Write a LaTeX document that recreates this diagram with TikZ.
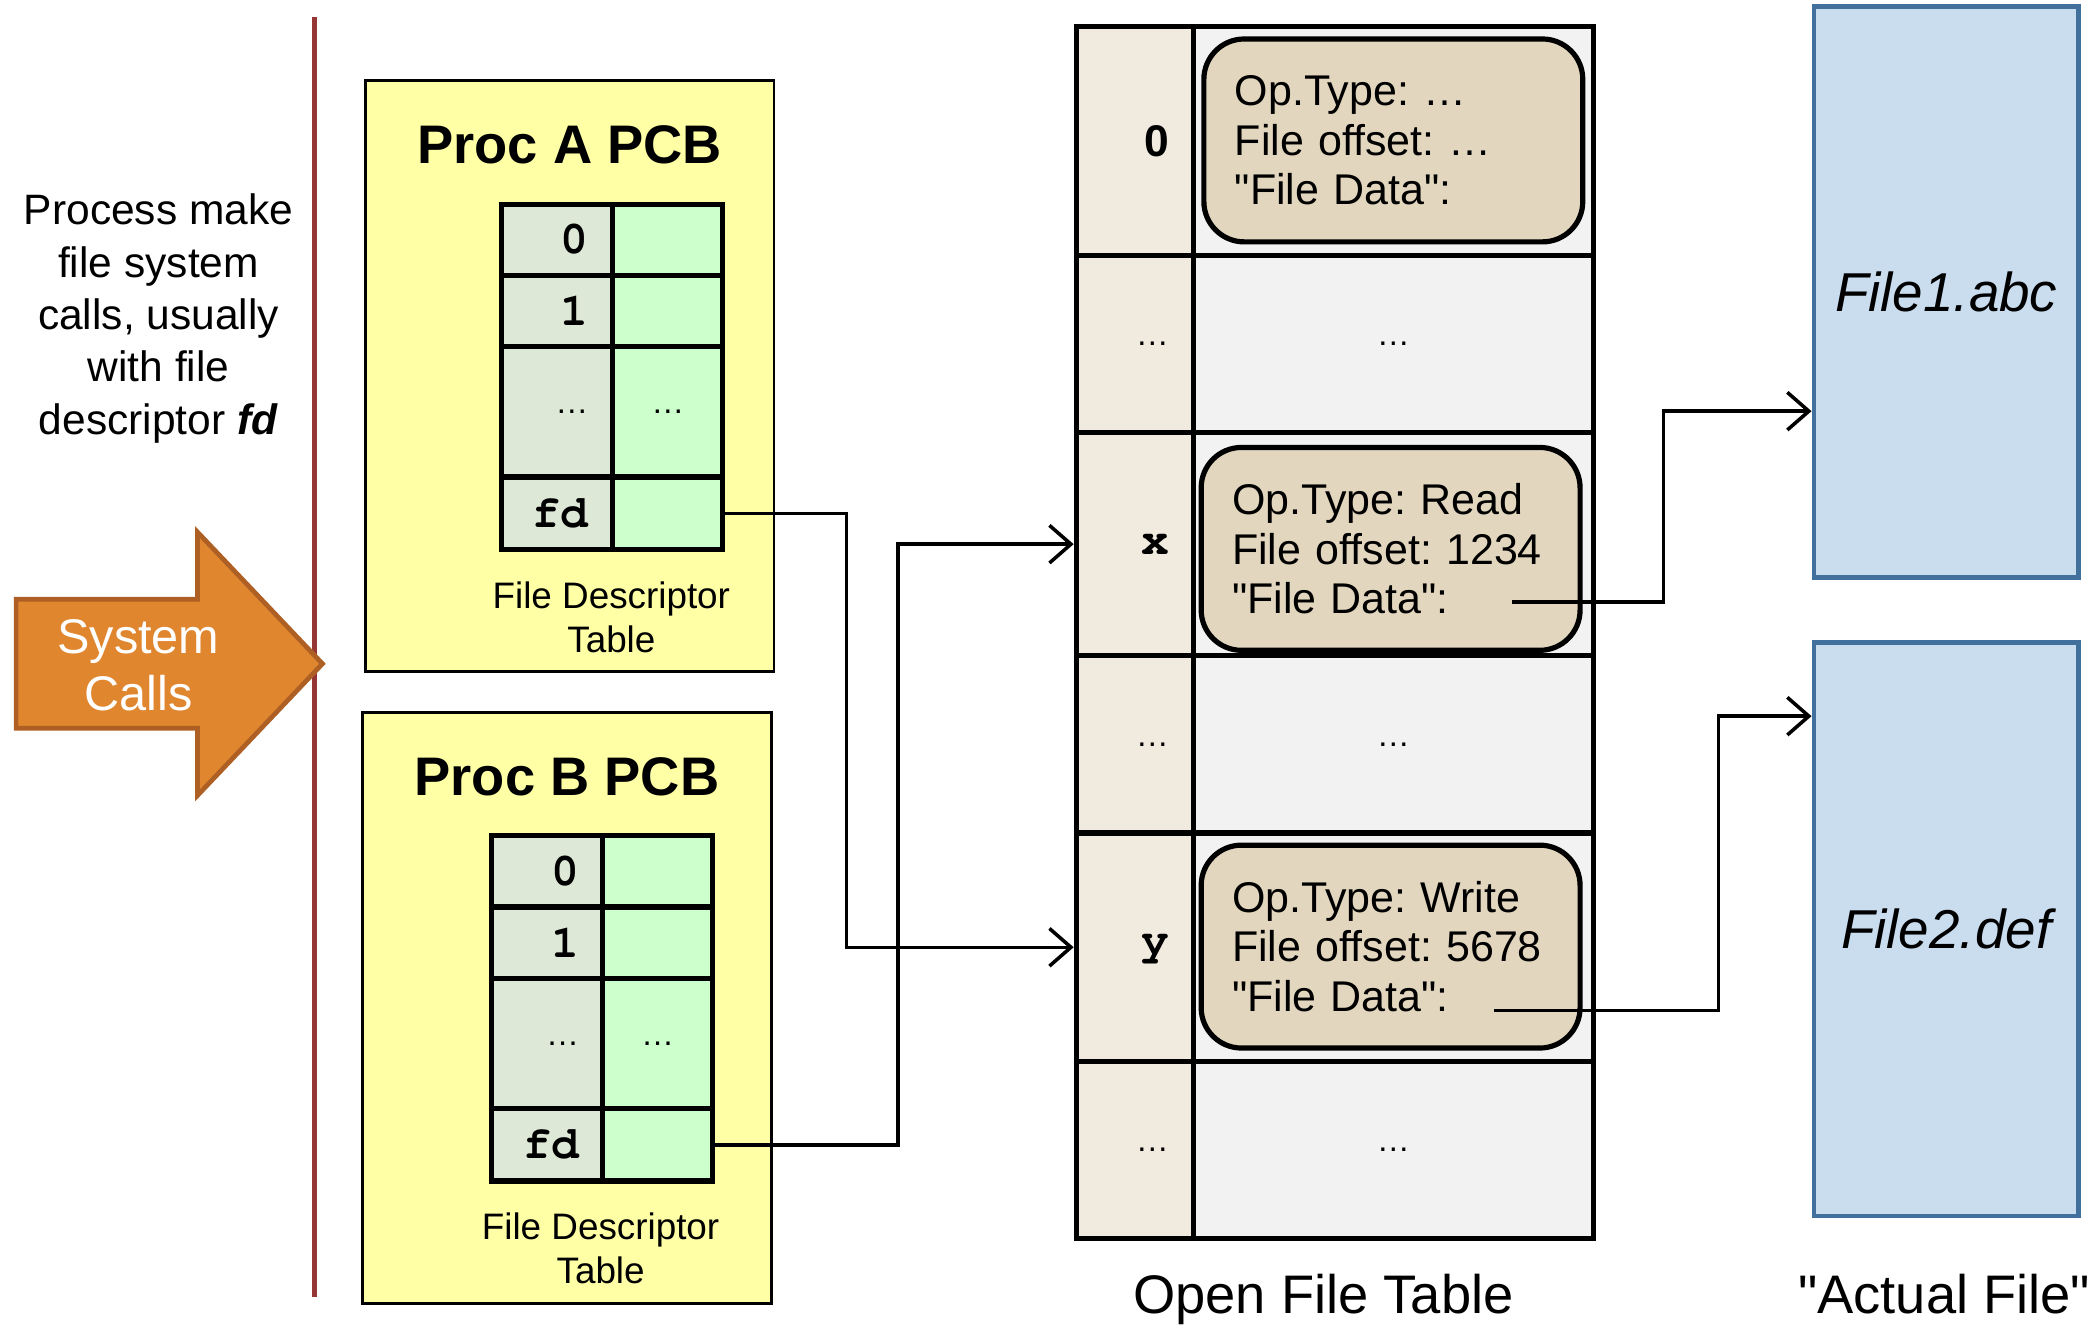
\documentclass[tikz,border=0pt]{standalone}
\usepackage{fontspec}
\setmainfont{Liberation Sans}
\setmonofont{Liberation Mono}
\usetikzlibrary{arrows.meta}

\definecolor{pcbyellow}{HTML}{FFFFA6}
\definecolor{keygray}{HTML}{DDE8D6}
\definecolor{valgreen}{HTML}{CCFFCC}
\definecolor{oftbeige}{HTML}{F0EADF}
\definecolor{oftgray}{HTML}{F2F2F2}
\definecolor{enttan}{HTML}{E2D6BE}
\definecolor{fileblue}{HTML}{C9DDEF}
\definecolor{fileedge}{HTML}{41709C}
\definecolor{sysorange}{HTML}{E0862F}
\definecolor{sysedge}{HTML}{AE5F24}
\definecolor{kernelred}{HTML}{963634}

\newcommand{\courierbf}{\fontencoding{T1}\fontfamily{pcr}\fontseries{b}\selectfont}

\tikzset{
	pcb/.style={draw=black, line width=0.6pt, fill=pcbyellow, minimum width=3.04cm, minimum height=4.40cm, inner sep=0},
	pcbtitle/.style={font=\fontsize{11.5}{13}\selectfont\bfseries},
	fdkey/.style={draw, line width=1.1pt, fill=keygray, minimum width=0.83cm, text width=0.47cm, inner xsep=0.18cm, inner ysep=0, align=right, font=\fontsize{9.8}{11}\courierbf},
	fdval/.style={draw, line width=1.1pt, fill=valgreen, minimum width=0.82cm, inner sep=0},
	fdcap/.style={align=center, font=\fontsize{7.8}{9.4}\selectfont},
	oftkey/.style={draw, line width=1.1pt, fill=oftbeige, minimum width=0.87cm, text width=0.51cm, inner xsep=0.18cm, inner ysep=0, align=right, font=\fontsize{9.4}{11}\selectfont\bfseries},
	oftval/.style={draw, line width=1.1pt, fill=oftgray, minimum width=2.98cm, inner sep=0},
	entry/.style={draw, line width=1.1pt, fill=enttan, rounded corners=0.3cm, minimum width=2.82cm, minimum height=1.51cm, text width=2.36cm, inner xsep=0.23cm, align=left, font=\fontsize{9.1}{10.5}\selectfont\frenchspacing},
	filebox/.style={draw=fileedge, line width=1pt, fill=fileblue, minimum width=1.97cm, inner sep=0, font=\fontsize{11.6}{13}\selectfont\itshape},
	caption/.style={font=\fontsize{11.5}{13}\selectfont},
	conn/.style={line width=0.75pt, -{Straight Barb[length=0.16cm, width=0.28cm]}},
}

\newcommand{\celldots}{{\fontsize{7}{8}\selectfont\rmfamily\mdseries …}}

\begin{document}
\begin{tikzpicture}
		%%%%% START %%%%%
		\useasboundingbox (0,0) rectangle (15.6,-9.884);
		
		% left side: note, kernel line, system calls
		\node[align=center, font=\fontsize{9}{11.1}\selectfont] (note) at (1.18,-2.37) {Process make\\file system\\calls, usually\\with file\\descriptor \textbf{\textit{fd}}};
		\draw[line width=1.1pt, color=kernelred] (2.34,-0.13) -- (2.34,-9.65);
		\draw[line width=1pt, draw=sysedge, fill=sysorange] (0.12,-4.46) -- (1.47,-4.46) -- (1.47,-3.96) -- (2.40,-4.94) -- (1.47,-5.92) -- (1.47,-5.42) -- (0.12,-5.42) -- cycle;
		\node[align=center, text=white, font=\fontsize{10.3}{12}\selectfont] (syscall) at (1.03,-4.95) {System\\Calls};
		
		% Proc A PCB
		\node[pcb] (pcba) at (4.24,-2.80) {};
		\node[pcbtitle] (pcbat) at (4.24,-1.08) {Proc A PCB};
		\node[fdkey, minimum height=0.53cm] (a0k) at (4.145,-1.785) {0};
		\node[fdval, minimum height=0.53cm] (a0v) at (4.97,-1.785) {};
		\node[fdkey, minimum height=0.53cm] (a1k) at (4.145,-2.315) {1};
		\node[fdval, minimum height=0.53cm] (a1v) at (4.97,-2.315) {};
		\node[fdkey, minimum height=0.97cm] (adk) at (4.145,-3.065) {\celldots};
		\node[fdval, minimum height=0.97cm] (adv) at (4.97,-3.065) {\celldots};
		\node[fdkey, minimum height=0.54cm] (afdk) at (4.145,-3.82) {fd};
		\node[fdval, minimum height=0.54cm] (afdv) at (4.97,-3.82) {};
		\node[fdcap] (afdt) at (4.55,-4.595) {File Descriptor\\Table};
		
		% Proc B PCB
		\node[pcb] (pcbb) at (4.22,-7.50) {};
		\node[pcbtitle] (pcbbt) at (4.22,-5.78) {Proc B PCB};
		\node[fdkey, minimum height=0.53cm] (b0k) at (4.075,-6.485) {0};
		\node[fdval, minimum height=0.53cm] (b0v) at (4.895,-6.485) {};
		\node[fdkey, minimum height=0.53cm] (b1k) at (4.075,-7.015) {1};
		\node[fdval, minimum height=0.53cm] (b1v) at (4.895,-7.015) {};
		\node[fdkey, minimum height=0.97cm] (bdk) at (4.075,-7.765) {\celldots};
		\node[fdval, minimum height=0.97cm] (bdv) at (4.895,-7.765) {\celldots};
		\node[fdkey, minimum height=0.54cm] (bfdk) at (4.075,-8.52) {fd};
		\node[fdval, minimum height=0.54cm] (bfdv) at (4.895,-8.52) {};
		\node[fdcap] (bfdt) at (4.47,-9.29) {File Descriptor\\Table};
		
		% Open File Table
		\node[oftkey, minimum height=1.70cm] (o0k) at (8.445,-1.05) {0};
		\node[oftval, minimum height=1.70cm] (o0v) at (10.37,-1.05) {};
		\node[oftkey, minimum height=1.32cm] (o1k) at (8.445,-2.56) {\celldots};
		\node[oftval, minimum height=1.32cm] (o1v) at (10.37,-2.56) {\celldots};
		\node[oftkey, minimum height=1.66cm, font=\fontsize{9.8}{11}\courierbf] (oxk) at (8.445,-4.05) {x};
		\node[oftval, minimum height=1.66cm] (oxv) at (10.37,-4.05) {};
		\node[oftkey, minimum height=1.32cm] (o2k) at (8.445,-5.54) {\celldots};
		\node[oftval, minimum height=1.32cm] (o2v) at (10.37,-5.54) {\celldots};
		\node[oftkey, minimum height=1.70cm, font=\fontsize{9.8}{11}\courierbf] (oyk) at (8.445,-7.05) {y};
		\node[oftval, minimum height=1.70cm] (oyv) at (10.37,-7.05) {};
		\node[oftkey, minimum height=1.32cm] (o3k) at (8.445,-8.56) {\celldots};
		\node[oftval, minimum height=1.32cm] (o3v) at (10.37,-8.56) {\celldots};
		
		\node[entry] (ent0) at (10.37,-1.045) {Op.Type: …\\File offset: …\\\textquotedbl File Data\textquotedbl:};
		\node[entry] (entx) at (10.35,-4.085) {Op.Type: Read\\File offset: 1234\\\textquotedbl File Data\textquotedbl:};
		\node[entry] (enty) at (10.35,-7.045) {Op.Type: Write\\File offset: 5678\\\textquotedbl File Data\textquotedbl:};
		\coordinate (xdata) at (11.25,-4.48);
		\coordinate (ydata) at (11.12,-7.52);
		
		\node[caption] (oftcap) at (9.85,-9.67) {Open File Table};
		
		% actual files
		\node[filebox, minimum height=4.25cm] (file1) at (14.485,-2.175) {File1.abc};
		\node[filebox, minimum height=4.27cm] (file2) at (14.485,-6.915) {File2.def};
		\node[caption] (filecap) at (14.47,-9.63) {\textquotedbl Actual File\textquotedbl};
		
		% connectors
		\draw[conn] (afdv.east) -- ++(0.90,0) |- (oyk.west);
		\draw[conn] (bfdv.east) -- ++(1.36,0) |- (oxk.west);
		\draw[conn] (xdata) -- ++(1.13,0) |- ([yshift=-0.885cm]file1.west);
		\draw[conn] (ydata) -- ++(1.67,0) |- ([yshift=1.585cm]file2.west);
		
		%%%%% END %%%%%
	\end{tikzpicture}
\end{document}
